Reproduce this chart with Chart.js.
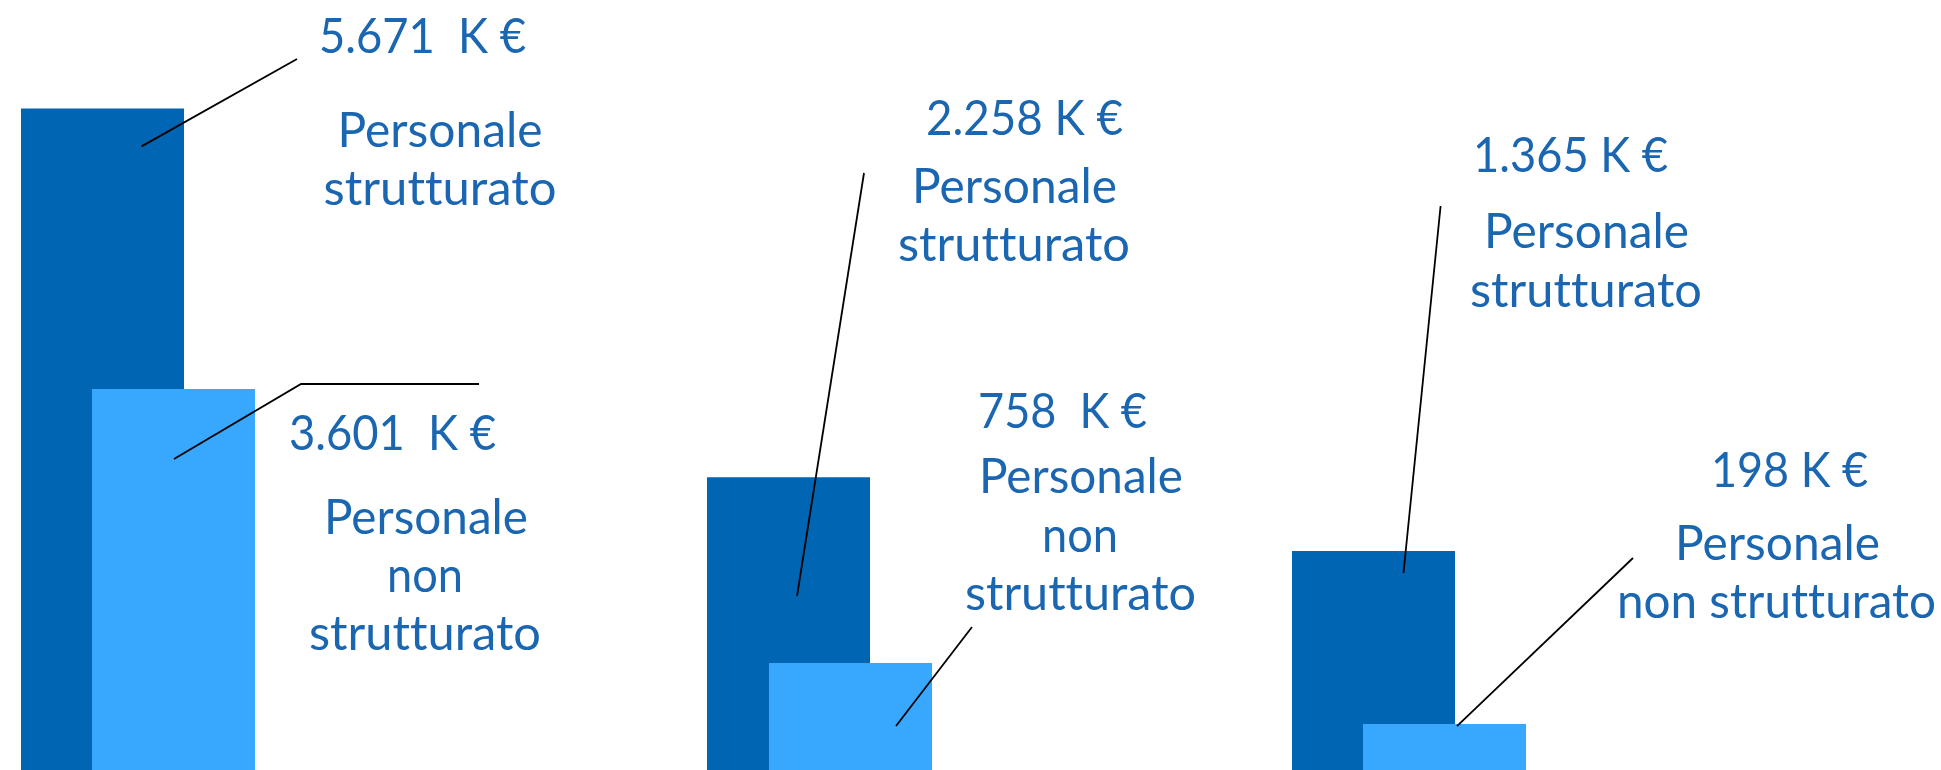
<!DOCTYPE html>
<html>
<head>
<meta charset="utf-8">
<script src="https://cdn.jsdelivr.net/npm/chart.js@4.4.0/dist/chart.umd.min.js"></script>
<style>
  html, body { margin: 0; padding: 0; background: #fff; }
  body { position: relative; width: 1941px; height: 770px; overflow: hidden; }
  .box { position: absolute; top: 0; height: 770px; }
</style>
</head>
<body>
<div class="box" style="left:0;width:600px"><canvas id="chart1"></canvas></div>
<div class="box" style="left:600px;width:640px"><canvas id="chart2"></canvas></div>
<div class="box" style="left:1240px;width:701px"><canvas id="chart3"></canvas></div>
<script>
// dati
let gruppi = ['1', '2', '3'];
let serie = ['Personale strutturato', 'Personale non strutturato'];
let valoriStrutturato = ['5.671  K €', '2.258 K €', '1.365 K €'];
let valoriNonStrutturato = ['3.601  K €', '758  K €', '198 K €'];
// heights of the bars as drawn in the original (not to scale with the labels)
let barreStrutturato = [5671, 2510, 1877];
let barreNonStrutturato = [3266, 917, 394];

let colori = ['#0065b2', '#38a8fe'];
let coloreTesto = '#1a66b1';

// label / leader line placement, canvas pixels ([x, baseline, width])
let layout = [
  {
    canvas: 'chart1', pad: [18, 342], cat: 0.5917, bar: 2.296,
    dark: { lead: [39, 38], path: [[297, 59]], value: [422.5, 53, 207],
      lines: [['Personale', 440, 147, 205], ['strutturato', 440, 205, 233]] },
    light: { lead: [0.5, 70], path: [[301, 384], [479, 384]], value: [392.5, 450, 207],
      lines: [['Personale', 426, 534, 204], ['non', 425, 592, 76], ['strutturato', 425, 650, 232]] }
  },
  {
    canvas: 'chart2', pad: [99.5, 300.5], cat: 0.5167, bar: 2.629,
    dark: { lead: [8.5, 119], path: [[264, 173]], value: [424.5, 135, 197],
      lines: [['Personale', 414.5, 203, 205], ['strutturato', 414, 261, 232]] },
    light: { lead: [45.5, 63], path: [[372, 627]], value: [462.5, 428, 169],
      lines: [['Personale', 481, 493, 204], ['non', 480, 552, 76], ['strutturato', 480.5, 610, 231]] }
  },
  {
    canvas: 'chart3', pad: [49, 412], cat: 0.5917, bar: 2.296,
    dark: { lead: [30, 22], path: [[200.6, 206]], value: [330.5, 172, 195],
      lines: [['Personale', 346.5, 248, 205], ['strutturato', 346, 307, 232]] },
    light: { lead: [12.5, 2], path: [[393, 558]], value: [549.5, 487, 157],
      lines: [['Personale', 537.5, 560, 205], ['non strutturato', 536.5, 618, 319]] }
  }
];

function testo(ctx, t, x, y, w) {
  let sx = w / ctx.measureText(t).width;
  ctx.save();
  ctx.translate(x, y);
  ctx.scale(sx, 1);
  ctx.fillText(t, 0, 0);
  ctx.restore();
}

let etichette = {
  id: 'etichette',
  // strutturato bars go underneath the non strutturato ones
  beforeDatasetsDraw(chart) {
    chart.getDatasetMeta(0).controller.draw();
  },
  beforeDatasetDraw(chart, args) {
    if (args.index === 0) return false;
  },
  afterDatasetsDraw(chart, args, opts) {
    let ctx = chart.ctx;
    let g = opts.gruppo;
    let parti = [layout[g].dark, layout[g].light];
    let valori = [valoriStrutturato[g], valoriNonStrutturato[g]];
    ctx.save();
    parti.forEach(function (lay, ds) {
      let bar = chart.getDatasetMeta(ds).data[0];
      ctx.strokeStyle = '#000';
      ctx.lineWidth = 1.8;
      ctx.beginPath();
      ctx.moveTo(bar.x + lay.lead[0], bar.y + lay.lead[1]);
      lay.path.forEach(function (p) { ctx.lineTo(p[0], p[1]); });
      ctx.stroke();

      ctx.fillStyle = coloreTesto;
      ctx.font = '48px Lato';
      ctx.textRendering = 'optimizeSpeed'; // no tt ligature
      ctx.textAlign = 'center';
      ctx.textBaseline = 'alphabetic';
      testo(ctx, valori[ds], lay.value[0], lay.value[1], lay.value[2]);
      lay.lines.forEach(function (l) {
        testo(ctx, l[0], l[1], l[2], l[3]);
      });
    });
    ctx.restore();
  }
};

gruppi.forEach(function (gruppo, g) {
  let lay = layout[g];
  let ctx = document.getElementById(lay.canvas).getContext('2d');
  new Chart(ctx, {
    type: 'bar',
    data: {
      labels: [gruppo],
      datasets: [{
        label: serie[0],
        data: [barreStrutturato[g]],
        backgroundColor: colori[0]
      }, {
        label: serie[1],
        data: [barreNonStrutturato[g]],
        backgroundColor: colori[1]
      }]
    },
    options: {
      animation: false,
      responsive: true,
      maintainAspectRatio: false,
      categoryPercentage: lay.cat,
      barPercentage: lay.bar,
      layout: { padding: { left: lay.pad[0], right: lay.pad[1], top: 0, bottom: 0 } },
      scales: {
        x: { display: false },
        y: { display: false, min: 0, max: 6600 }
      },
      plugins: {
        legend: { display: false },
        tooltip: { enabled: false },
        etichette: { gruppo: g }
      }
    },
    plugins: [etichette]
  });
});
</script>
</body>
</html>
